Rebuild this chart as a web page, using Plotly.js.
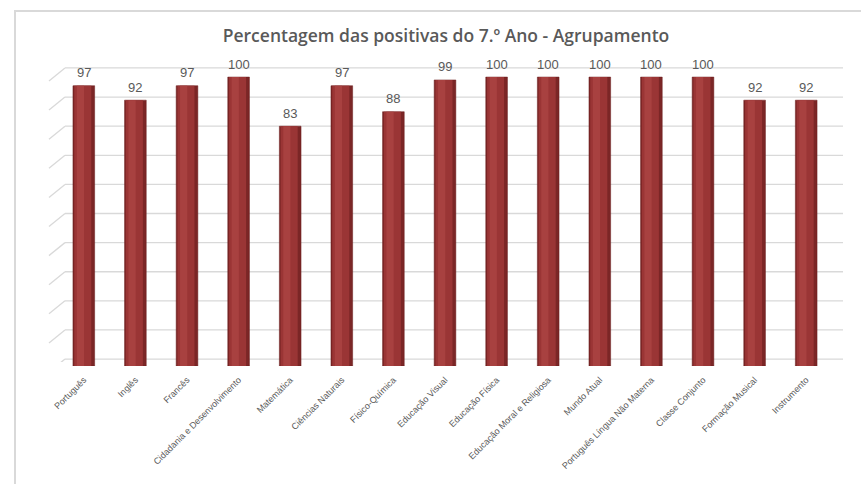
<!DOCTYPE html>
<html>
<head>
<meta charset="utf-8">
<script src="https://cdn.plot.ly/plotly-3.0.1.min.js"></script>
<style>
  html, body { margin: 0; padding: 0; background: #fff; }
  #wrap { position: relative; width: 861px; height: 484px; overflow: hidden; }
  #chart { width: 861px; height: 484px; }
  #frame { position: absolute; left: 14px; top: 10px; width: 900px; height: 500px;
           border-left: 2px solid #d9d9d9; border-top: 2px solid #d9d9d9; pointer-events: none; }
</style>
</head>
<body>
<div id="wrap">
  <div id="chart"></div>
  <div id="frame"></div>
</div>
<script>
const categories = [
  "Português", "Inglês", "Francês", "Cidadania e Desenvolvimento", "Matemática",
  "Ciências Naturais", "Físico-Química", "Educação Visual", "Educação Física",
  "Educação Moral e Religiosa", "Mundo Atual", "Português Língua Não Materna",
  "Classe Conjunto", "Formação Musical", "Instrumento"
];
const values = [97, 92, 97, 100, 83, 97, 88, 99, 100, 100, 100, 100, 100, 92, 92];
const gridValues = [0, 10, 20, 30, 40, 50, 60, 70, 80, 90, 100];
const chartTitle = "Percentagem das positivas do 7.º Ano - Agrupamento";

const gray = "#595959";
const gridColor = "#d9d9d9";

// back wall gridlines (first subplot, drawn underneath the bars)
const wallX = [], wallY = [];
gridValues.forEach(v => { wallX.push(0, 1, null); wallY.push(v, v, null); });
const wall = {
  type: "scatter", mode: "lines", x: wallX, y: wallY, xaxis: "x", yaxis: "y",
  line: { color: gridColor, width: 1.3 }, cliponaxis: false,
  hoverinfo: "skip", connectgaps: false
};

const baseBar = {
  type: "bar", x: categories, y: values,
  width: 0.42, offset: -0.21,
  marker: { color: "#7b2626", line: { color: "#6a1d1d", width: 0.5 } },
  hoverinfo: "skip", xaxis: "x2", yaxis: "y2"
};
const midBar = {
  type: "bar", x: categories, y: values,
  width: 0.33, offset: -0.185,
  marker: { color: "#9a3535" },
  hoverinfo: "skip", xaxis: "x2", yaxis: "y2"
};
const hiBar = {
  type: "bar", x: categories, y: values,
  width: 0.14, offset: -0.135,
  marker: { color: "#a84140" },
  hoverinfo: "skip", xaxis: "x2", yaxis: "y2"
};

const valueLabels = categories.map((c, i) => ({
  xref: "x2", yref: "y2", x: c, y: values[i], text: String(values[i]),
  showarrow: false, yanchor: "middle", xanchor: "center", yshift: 13,
  font: { family: "Liberation Sans, Arial, sans-serif", size: 13, color: gray }
}));

// diagonal side-wall stubs
const stubs = gridValues.map(v => ({
  type: "line", xref: "paper", yref: "y",
  ysizemode: "pixel", yanchor: v,
  x0: -0.0115, x1: 0.0089, y0: -13, y1: 0,
  line: { color: gridColor, width: 1.3 }, layer: "below"
}));

const layout = {
  width: 861, height: 484,
  margin: { l: 58, r: 18, t: 60, b: 118 },
  paper_bgcolor: "#ffffff", plot_bgcolor: "rgba(0,0,0,0)",
  showlegend: false,
  barmode: "overlay",
  title: {
    text: chartTitle, x: 0.518, xanchor: "center", y: 0.926, yanchor: "middle",
    font: { family: "Open Sans, Liberation Sans, sans-serif", size: 17.5, color: gray, weight: 600 }
  },
  xaxis: {
    domain: [0.0089, 1], anchor: "y", range: [0, 1], automargin: false,
    showgrid: false, zeroline: false, showline: false, showticklabels: false, ticks: ""
  },
  yaxis: {
    domain: [0.0131, 0.9835], anchor: "x", range: [-1, 101], automargin: false,
    showgrid: false, zeroline: false, showline: false, showticklabels: false, ticks: ""
  },
  xaxis2: {
    domain: [0, 0.986], anchor: "y2", type: "category", automargin: false,
    showgrid: false, zeroline: false, showline: false,
    ticks: "", tickangle: -45, ticklabelstandoff: 6,
    tickfont: { family: "Liberation Sans, Arial, sans-serif", size: 9, color: gray }
  },
  yaxis2: {
    domain: [0, 1], anchor: "x2", range: [0, 105.9], automargin: false,
    showgrid: false, zeroline: false, showline: false,
    showticklabels: false, ticks: ""
  },
  shapes: stubs,
  annotations: valueLabels
};

Plotly.newPlot("chart", [wall, baseBar, midBar, hiBar], layout,
  { displayModeBar: false, staticPlot: true });
</script>
</body>
</html>
